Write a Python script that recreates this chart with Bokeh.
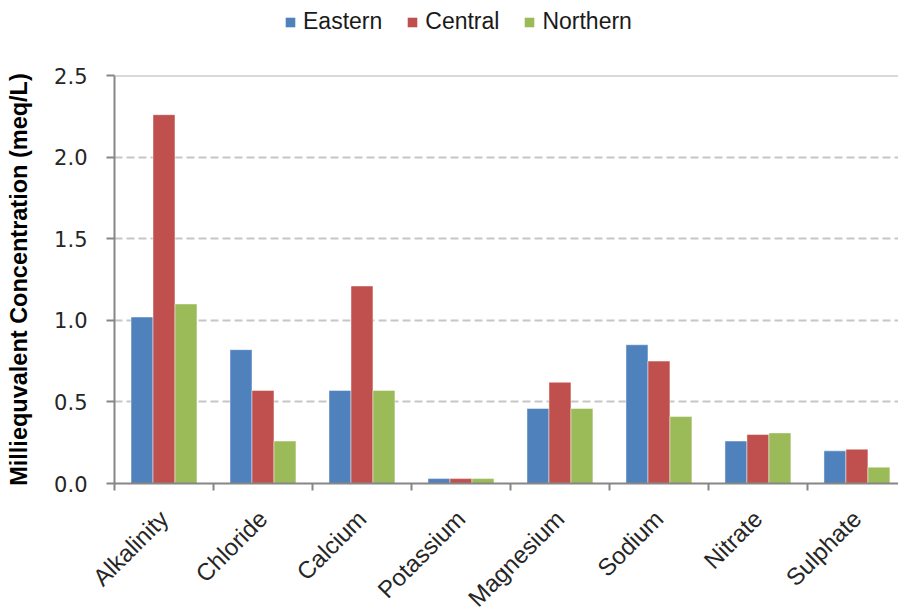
import math
from bokeh.plotting import figure
from bokeh.layouts import column
from bokeh.models import (FixedTicker, Legend, LegendItem, Span, Range1d,
                          ColumnDataSource)
from bokeh.embed import file_html
from bokeh.resources import INLINE

categories = ["Alkalinity", "Chloride", "Calcium", "Potassium",
              "Magnesium", "Sodium", "Nitrate", "Sulphate"]
eastern = [1.02, 0.82, 0.57, 0.03, 0.46, 0.85, 0.26, 0.20]
central = [2.26, 0.57, 1.21, 0.03, 0.62, 0.75, 0.30, 0.21]
northern = [1.10, 0.26, 0.57, 0.03, 0.46, 0.41, 0.31, 0.10]
series_names = ["Eastern", "Central", "Northern"]
y_ticks = [0.0, 0.5, 1.0, 1.5, 2.0, 2.5]
y_label = "Milliequvalent Concentration (meq/L)"

colors = ["#4F81BD", "#C0504D", "#9BBB59"]
FONT = "Liberation Sans"

n = len(categories)
centers = [i + 0.5 for i in range(n)]
bar_w = 0.222
offsets = [-bar_w, 0.0, bar_w]
series_vals = [eastern, central, northern]

# ---- legend strip (top): series lie below this strip's visible range, only the legend shows ----
top = figure(width=898, height=65, output_backend="svg", toolbar_location=None,
             x_range=Range1d(0, 7.92), y_range=Range1d(10, 12.5),
             x_axis_location=None, y_axis_location=None, min_border=0)
top.grid.visible = False
top.outline_line_color = None
top.background_fill_color = "white"
top.border_fill_color = "white"
items = []
for name, vals, col, off in zip(series_names, series_vals, colors, offsets):
    src = ColumnDataSource(dict(x=[c + off for c in centers], top=vals))
    r = top.vbar(x="x", top="top", width=bar_w, bottom=0, source=src,
                 fill_color=col, line_color=None)
    items.append(LegendItem(label=name, renderers=[r]))
legend = Legend(items=items, orientation="horizontal", location=(170, 30),
                label_text_font=FONT, label_text_font_size="23px",
                label_text_color="#1a1a1a", glyph_width=12, glyph_height=12,
                label_standoff=7, spacing=24, padding=0, margin=0,
                border_line_color=None, background_fill_alpha=0)
top.add_layout(legend, "center")

# ---- main chart ----
p = figure(frame_width=784, frame_height=408, output_backend="svg", toolbar_location=None,
           x_range=Range1d(0, 7.92), y_range=Range1d(0, 2.5),
           min_border_left=114, min_border_right=0, min_border_top=10,
           min_border_bottom=129)
p.outline_line_color = None
p.background_fill_color = "white"
p.border_fill_color = "white"

for name, vals, col, off in zip(series_names, series_vals, colors, offsets):
    src = ColumnDataSource(dict(x=[c + off for c in centers], top=vals))
    p.vbar(x="x", top="top", width=bar_w, bottom=0, source=src,
           fill_color=col, line_color="white", line_alpha=0.45, line_width=1)

# grid
p.xgrid.visible = False
p.ygrid.ticker = FixedTicker(ticks=y_ticks[1:-1])
p.ygrid.grid_line_color = "#C6C6C6"
p.ygrid.grid_line_dash = "8 4"
p.ygrid.grid_line_width = 2
p.add_layout(Span(location=y_ticks[-1], dimension="width", line_color="#B4B4B4", line_width=2))

# x axis
xa = p.xaxis[0]
lab_pos = [c + 0.0 for c in centers]
xa.ticker = FixedTicker(ticks=lab_pos, minor_ticks=list(range(n + 1)))
xa.major_label_overrides = {c: lab for c, lab in zip(lab_pos, categories)}
xa.major_label_orientation = math.pi / 4
xa.major_tick_in = 0
xa.major_tick_out = 0
xa.minor_tick_in = 0
xa.minor_tick_out = 7
xa.minor_tick_line_color = "#868686"
xa.minor_tick_line_width = 2
xa.axis_line_color = "#868686"
xa.axis_line_width = 2
xa.major_label_text_font = FONT
xa.major_label_text_font_size = "24px"
xa.major_label_text_color = "#262626"
xa.major_label_standoff = 24

# y axis
ya = p.yaxis[0]
ya.ticker = FixedTicker(ticks=y_ticks)
ya.major_label_overrides = {t: f"{t:.1f}" for t in y_ticks}
ya.minor_tick_line_color = None
ya.major_tick_in = 0
ya.major_tick_out = 8
ya.major_tick_line_color = "#868686"
ya.major_tick_line_width = 2
ya.axis_line_color = "#868686"
ya.axis_line_width = 2
ya.major_label_text_font = "DejaVu Sans"
ya.major_label_text_font_size = "21px"
ya.major_label_text_color = "#262626"
ya.major_label_standoff = 19
ya.axis_label = y_label
ya.axis_label_text_font = FONT
ya.axis_label_text_font_size = "23.5px"
ya.axis_label_text_font_style = "bold"
ya.axis_label_text_color = "black"
ya.axis_label_standoff = 19

layout = column(top, p, spacing=0)
open("out.html", "w").write(file_html(layout, INLINE))
